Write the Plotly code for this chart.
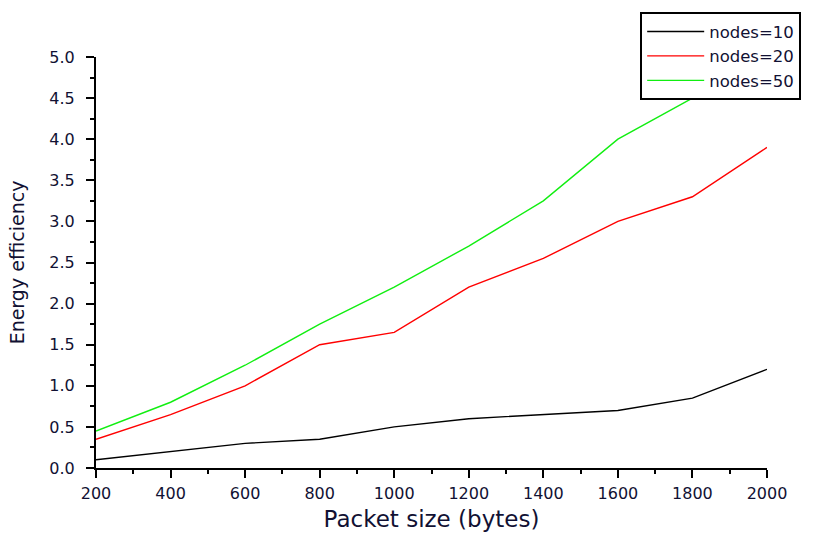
import plotly.graph_objects as go

packet_size = [200, 400, 600, 800, 1000, 1200, 1400, 1600, 1800, 2000]
nodes10 = [0.10, 0.20, 0.30, 0.35, 0.50, 0.60, 0.65, 0.70, 0.85, 1.20]
nodes20 = [0.35, 0.65, 1.00, 1.50, 1.65, 2.20, 2.55, 3.00, 3.30, 3.90]
nodes50 = [0.45, 0.80, 1.25, 1.75, 2.20, 2.70, 3.25, 4.00, 4.50, 4.80]
series_names = ["nodes=10", "nodes=20", "nodes=50"]
series_colors = ["#000000", "#ff0000", "#11ee11"]

fig = go.Figure()
for name, vals, col in zip(series_names, [nodes10, nodes20, nodes50], series_colors):
    fig.add_trace(go.Scatter(x=packet_size, y=vals, mode="lines", name=name,
                             line=dict(color=col, width=1.4)))

font_family = "DejaVu Sans, Verdana, sans-serif"
text_color = "#111133"
fig.update_layout(
    width=822, height=535,
    margin=dict(l=96, r=55, t=54, b=67),
    plot_bgcolor="white", paper_bgcolor="white",
    font=dict(family=font_family, color=text_color),
    legend=dict(x=0.811, y=1.109, xanchor="left", yanchor="top",
                bgcolor="white", bordercolor="black", borderwidth=2,
                font=dict(size=16.5, family=font_family, color=text_color),
                itemwidth=57, tracegroupgap=0),
    xaxis=dict(range=[200, 2000], tickvals=packet_size,
               ticktext=[str(v) for v in packet_size],
               ticks="outside", ticklen=8, tickwidth=1.5, tickcolor="black",
               showline=True, linecolor="black", linewidth=2,
               showgrid=False, zeroline=False, automargin=False,
               tickfont=dict(size=16), ticklabelstandoff=2,
               minor=dict(dtick=100, ticks="outside", ticklen=4, tickwidth=1.5, tickcolor="black"),
               title=dict(text="Packet size (bytes)", font=dict(size=23), standoff=9)),
    yaxis=dict(range=[0, 5], dtick=0.5, tick0=0, tickformat=".1f",
               ticks="outside", ticklen=8, tickwidth=1.5, tickcolor="black",
               showline=True, linecolor="black", linewidth=2,
               showgrid=False, zeroline=False, automargin=False,
               tickfont=dict(size=16), ticklabelstandoff=8,
               minor=dict(dtick=0.25, ticks="outside", ticklen=4, tickwidth=1.5, tickcolor="black"),
               title=dict(text="Energy efficiency", font=dict(size=19), standoff=20)),
)

fig.write_html("out.html")
